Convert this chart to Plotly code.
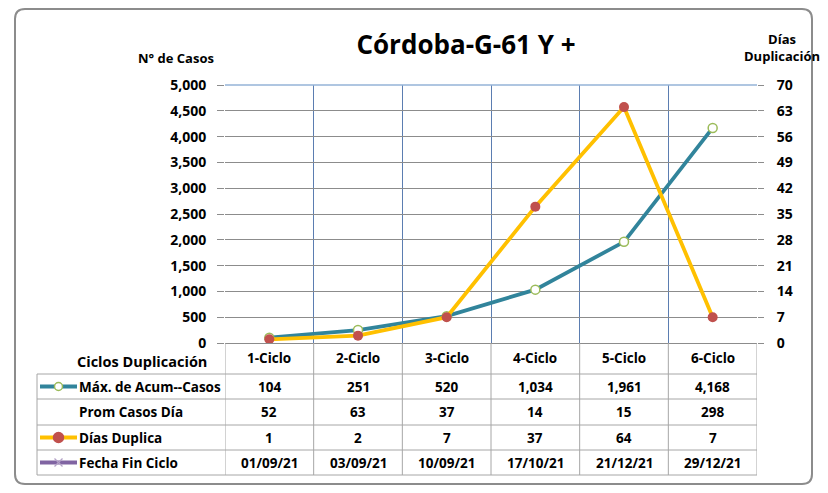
import plotly.graph_objs as go

ciclos = ["1-Ciclo", "2-Ciclo", "3-Ciclo", "4-Ciclo", "5-Ciclo", "6-Ciclo"]
max_acum = [104, 251, 520, 1034, 1961, 4168]
prom_casos = [52, 63, 37, 14, 15, 298]
dias_duplica = [1, 2, 7, 37, 64, 7]
fecha_fin = ["01/09/21", "03/09/21", "10/09/21", "17/10/21", "21/12/21", "29/12/21"]

W, H = 828, 493
OFF = 8  # page body margin of the html page
# plot area in page pixels: 225..757 x 85..343
L, R, T, B = 225 - OFF, W - 757 + OFF, 85 - OFF, H - 343 + OFF
PW, PH = W - L - R, H - T - B
FONT = "Open Sans"
TEAL, YELLOW, RED, GREEN, PURPLE = "#31849b", "#ffc000", "#c0504d", "#9bbb59", "#8064a2"


def fx(px):
    return (px - OFF - L) / PW


def fy(py):
    return (H - B - (py - OFF)) / PH


fig = go.Figure()
fig.add_trace(go.Scatter(x=ciclos, y=max_acum, mode="lines+markers", name="Máx. de Acum--Casos",
                         line=dict(color=TEAL, width=3.8),
                         marker=dict(symbol="circle", size=9, color="white", line=dict(color=GREEN, width=1.5))))
fig.add_trace(go.Scatter(x=ciclos, y=dias_duplica, mode="lines+markers", name="Días Duplica", yaxis="y2",
                         line=dict(color=YELLOW, width=3.8),
                         marker=dict(symbol="circle", size=10, color=RED)))

tickfont = dict(family=FONT, size=14, color="black", weight="bold")
fig.update_layout(
    width=W, height=H, margin=dict(l=L, r=R, t=T, b=B),
    paper_bgcolor="white", plot_bgcolor="white", showlegend=False,
    font=dict(family=FONT, color="black"),
    title=dict(text="<b>Córdoba-G-61 Y +</b>", x=fx(466), xref="paper", xanchor="center",
               y=1 - (45 - OFF) / H, yref="container", yanchor="middle",
               font=dict(family=FONT, size=26, color="black")),
    xaxis=dict(type="category", range=[-0.5, 5.5], tickson="boundaries", showgrid=True,
               gridcolor="#5b7db1", gridwidth=1, showticklabels=False, ticks="",
               showline=True, linecolor="#8c8c8c", zeroline=False),
    yaxis=dict(range=[0, 5000], dtick=500, tickformat=",", showgrid=True, gridcolor="#8c8c8c",
               ticks="outside", ticklen=7, tickcolor="#8c8c8c", tickfont=tickfont, zeroline=False,
               ticklabelstandoff=8, automargin=False),
    yaxis2=dict(range=[0, 70], dtick=7, overlaying="y", side="right", showgrid=False,
                ticks="outside", ticklen=6, tickcolor="#8c8c8c", tickfont=tickfont, zeroline=False,
                ticklabelstandoff=10, automargin=False),
)

shapes = []
ann = []

# top border of plot
shapes.append(dict(type="line", xref="paper", yref="paper", x0=0, x1=1, y0=1, y1=1,
                   line=dict(color="#95b3d7", width=1.5)))

# axis titles
ann.append(dict(text="<b>N° de Casos</b>", xref="paper", yref="paper", x=fx(176), y=fy(58),
                showarrow=False, font=dict(size=13), xanchor="center", yanchor="middle"))
ann.append(dict(text="<b>Días<br>Duplicación</b>", xref="paper", yref="paper", x=fx(782), y=fy(48),
                showarrow=False, font=dict(size=13), xanchor="center", yanchor="middle", align="center"))

# table grid
row_lines = [374, 399, 425, 450, 475]
grid = dict(color="#a6a6a6", width=1)
for yl in row_lines:
    shapes.append(dict(type="line", xref="paper", yref="paper", x0=fx(37), x1=1, y0=fy(yl), y1=fy(yl), line=grid))
shapes.append(dict(type="line", xref="paper", yref="paper", x0=fx(37), x1=fx(37),
                   y0=fy(374), y1=fy(475), line=grid))
for i in range(len(ciclos) + 1):
    shapes.append(dict(type="line", xref="x", yref="paper", x0=i - 0.5, x1=i - 0.5,
                       y0=0, y1=fy(475), line=grid))

# header row
ann.append(dict(text="<b>Ciclos Duplicación</b>", xref="paper", yref="paper", x=fx(209), y=fy(361),
                showarrow=False, font=dict(size=14.5), xanchor="right", yanchor="middle"))
rows = [
    ("Máx. de Acum--Casos", [f"{v:,}" for v in max_acum]),
    ("Prom Casos Día", [f"{v:,}" for v in prom_casos]),
    ("Días Duplica", [f"{v:,}" for v in dias_duplica]),
    ("Fecha Fin Ciclo", fecha_fin),
]
for c in ciclos:
    ann.append(dict(text=f"<b>{c}</b>", xref="x", yref="paper", x=c, y=fy(358), showarrow=False,
                    font=dict(size=13.5), xanchor="center", yanchor="middle"))
for r, (label, vals) in enumerate(rows):
    yc = (row_lines[r] + row_lines[r + 1]) / 2
    ann.append(dict(text=f"<b>{label}</b>", xref="paper", yref="paper", x=fx(77), y=fy(yc), showarrow=False,
                    font=dict(size=13.5), xanchor="left", yanchor="middle"))
    for c, v in zip(ciclos, vals):
        ann.append(dict(text=f"<b>{v}</b>", xref="x", yref="paper", x=c, y=fy(yc), showarrow=False,
                        font=dict(size=13.5), xanchor="center", yanchor="middle"))


# legend keys in the table
def key_line(yc, color):
    shapes.append(dict(type="line", xref="paper", yref="paper", x0=fx(40), x1=fx(77), y0=fy(yc), y1=fy(yc),
                       line=dict(color=color, width=3.8)))


def key_circle(yc, r, fill, edge):
    shapes.append(dict(type="circle", xref="paper", yref="paper", x0=fx(58.5 - r), x1=fx(58.5 + r),
                       y0=fy(yc + r), y1=fy(yc - r), fillcolor=fill, line=dict(color=edge, width=1.5)))


y1c = (row_lines[0] + row_lines[1]) / 2
key_line(y1c, TEAL)
key_circle(y1c, 4, "white", GREEN)
y3c = (row_lines[2] + row_lines[3]) / 2
key_line(y3c, YELLOW)
key_circle(y3c, 5, RED, RED)
y4c = (row_lines[3] + row_lines[4]) / 2
key_line(y4c, PURPLE)
for d in (-1, 1):
    shapes.append(dict(type="line", xref="paper", yref="paper", x0=fx(54.5), x1=fx(62.5),
                       y0=fy(y4c - 4 * d), y1=fy(y4c + 4 * d), line=dict(color="#b3a2c7", width=1.2)))

# chart border (rounded)
x0b, x1b, y0b, y1b, rr = 15, 812, 9, 484, 10
path = (f"M {fx(x0b + rr)} {fy(y0b)} L {fx(x1b - rr)} {fy(y0b)} "
        f"Q {fx(x1b)} {fy(y0b)} {fx(x1b)} {fy(y0b + rr)} L {fx(x1b)} {fy(y1b - rr)} "
        f"Q {fx(x1b)} {fy(y1b)} {fx(x1b - rr)} {fy(y1b)} L {fx(x0b + rr)} {fy(y1b)} "
        f"Q {fx(x0b)} {fy(y1b)} {fx(x0b)} {fy(y1b - rr)} L {fx(x0b)} {fy(y0b + rr)} "
        f"Q {fx(x0b)} {fy(y0b)} {fx(x0b + rr)} {fy(y0b)} Z")
shapes.append(dict(type="path", xref="paper", yref="paper", path=path, line=dict(color="#8c8c8c", width=2)))

fig.update_layout(shapes=shapes, annotations=ann)
fig.write_html("out.html")
